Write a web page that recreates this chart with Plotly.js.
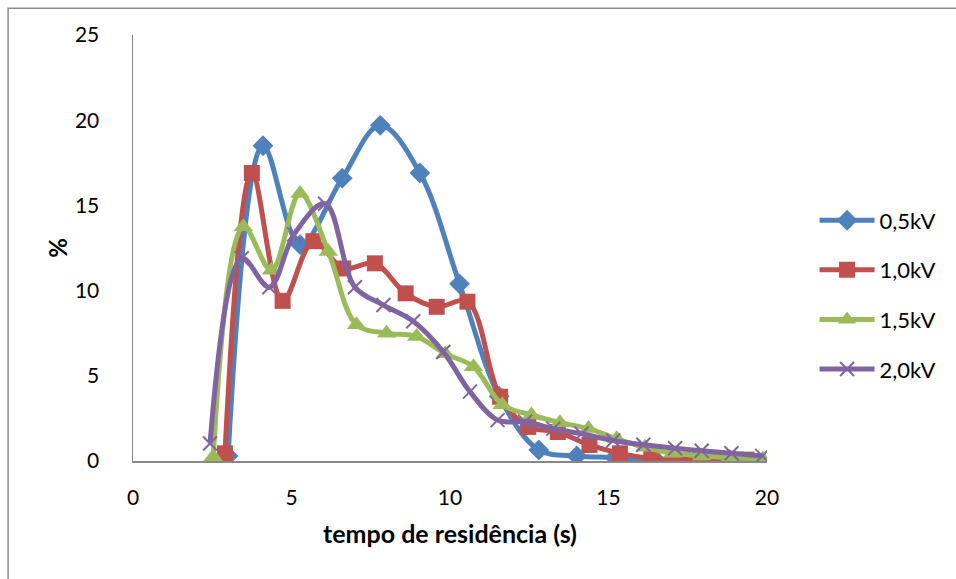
<!DOCTYPE html>
<html>
<head>
<meta charset="utf-8">
<script src="https://cdn.plot.ly/plotly-3.0.1.min.js"></script>
<style>html,body{margin:0;padding:0;background:#fff;}#chart{width:956px;height:579px;}</style>
</head>
<body>
<div id="chart"></div>
<script>
// Series names
const seriesNames = ["0,5kV", "1,0kV", "1,5kV", "2,0kV"];

// 0,5kV
const x05 = [3.0, 4.1, 5.27, 6.6, 7.8, 9.05, 10.3, 11.55, 12.8, 14.0, 15.2, 16.5, 17.7, 18.95];
const y05 = [0.3, 18.5, 12.7, 16.6, 19.7, 16.9, 10.4, 3.8, 0.65, 0.3, 0.2, 0.05, 0.02, 0.02];

// 1,0kV
const x10 = [2.9, 3.75, 4.72, 5.69, 6.63, 7.63, 8.6, 9.58, 10.55, 11.58, 12.47, 13.4, 14.4, 15.36, 16.35, 17.35, 18.4, 19.35];
const y10 = [0.45, 16.9, 9.4, 12.9, 11.3, 11.6, 9.84, 9.05, 9.35, 3.77, 2.0, 1.7, 0.94, 0.45, 0.15, 0.08, 0.08, 0.08];

// 1,5kV
const x15 = [2.53, 3.48, 4.37, 5.27, 6.16, 7.05, 8.0, 8.95, 9.85, 10.74, 11.65, 12.57, 13.47, 14.37, 15.26, 16.15, 17.03, 17.94, 18.83, 19.87];
const y15 = [0.25, 13.75, 11.2, 15.7, 12.3, 8.0, 7.5, 7.3, 6.3, 5.53, 3.3, 2.7, 2.25, 1.9, 1.3, 0.8, 0.45, 0.3, 0.2, 0.1];

// 2,0kV
const x20 = [2.43, 3.43, 4.3, 5.08, 6.06, 7.0, 7.9, 8.84, 9.79, 10.63, 11.5, 12.37, 13.26, 14.15, 15.15, 16.1, 17.1, 17.94, 18.88, 19.85];
const y20 = [1.03, 11.9, 10.2, 13.3, 15.1, 10.2, 9.15, 8.2, 6.4, 4.07, 2.4, 2.3, 1.9, 1.6, 1.2, 0.95, 0.75, 0.6, 0.45, 0.3];

// Axis ticks
const xTicks = [0, 5, 10, 15, 20];
const yTicks = [0, 5, 10, 15, 20, 25];

const colors = ["#4F81BD", "#C0504D", "#9BBB59", "#8064A2"];
const font = "Lato, 'Open Sans', 'Liberation Sans', sans-serif";

function trace(x, y, i, marker) {
  return {
    x: x, y: y, name: seriesNames[i], type: "scatter", mode: "lines+markers",
    legendgroup: "g" + i,
    line: {color: colors[i], width: 5, shape: "spline", smoothing: 1},
    marker: marker
  };
}

const data = [
  trace(x05, y05, 0, {symbol: "diamond", size: 16, color: colors[0]}),
  trace(x10, y10, 1, {symbol: "square", size: 16, color: colors[1]}),
  trace(x15, y15, 2, {symbol: "triangle-up", size: 17, color: colors[2]}),
  trace(x20, y20, 3, {symbol: "x-thin", size: 14, color: colors[3], line: {color: colors[3], width: 2}})
];

const layout = {
  width: 956, height: 579,
  margin: {l: 133, r: 189, t: 35, b: 118},
  paper_bgcolor: "#fff", plot_bgcolor: "#fff",
  font: {family: font, size: 21, color: "#000"},
  showlegend: true,
  legend: {x: 1.075, y: 0.614, xanchor: "left", yanchor: "top", tracegroupgap: 18, itemwidth: 55,
           font: {family: font, size: 22, color: "#000"}, bgcolor: "rgba(0,0,0,0)"},
  xaxis: {
    range: [0, 20], tickvals: xTicks, ticktext: xTicks.map(String),
    showgrid: false, zeroline: false, showline: true, linecolor: "#888", linewidth: 1.5,
    ticks: "", ticklabelstandoff: 17,
    tickfont: {family: font, size: 21, color: "#000"},
    title: {text: "tempo de residência (s)", font: {family: font, size: 25, color: "#000", weight: "bold"}, standoff: 18}
  },
  yaxis: {
    range: [0, 25], tickvals: yTicks, ticktext: yTicks.map(String),
    showgrid: false, zeroline: false, showline: true, linecolor: "#888", linewidth: 1.5,
    ticks: "", ticklabelstandoff: 28,
    tickfont: {family: font, size: 21, color: "#000"},
    title: {text: "%", font: {family: font, size: 24, color: "#000", weight: "bold"}, standoff: 0}
  },
  shapes: [{
    type: "rect", xref: "paper", yref: "paper",
    x0: -0.197, x1: 1.33, y0: -0.31, y1: 1.063,
    line: {color: "#8c8c8c", width: 1.5}, fillcolor: "rgba(0,0,0,0)", layer: "below"
  }]
};

Plotly.newPlot("chart", data, layout, {displayModeBar: false, staticPlot: true});
</script>
</body>
</html>
